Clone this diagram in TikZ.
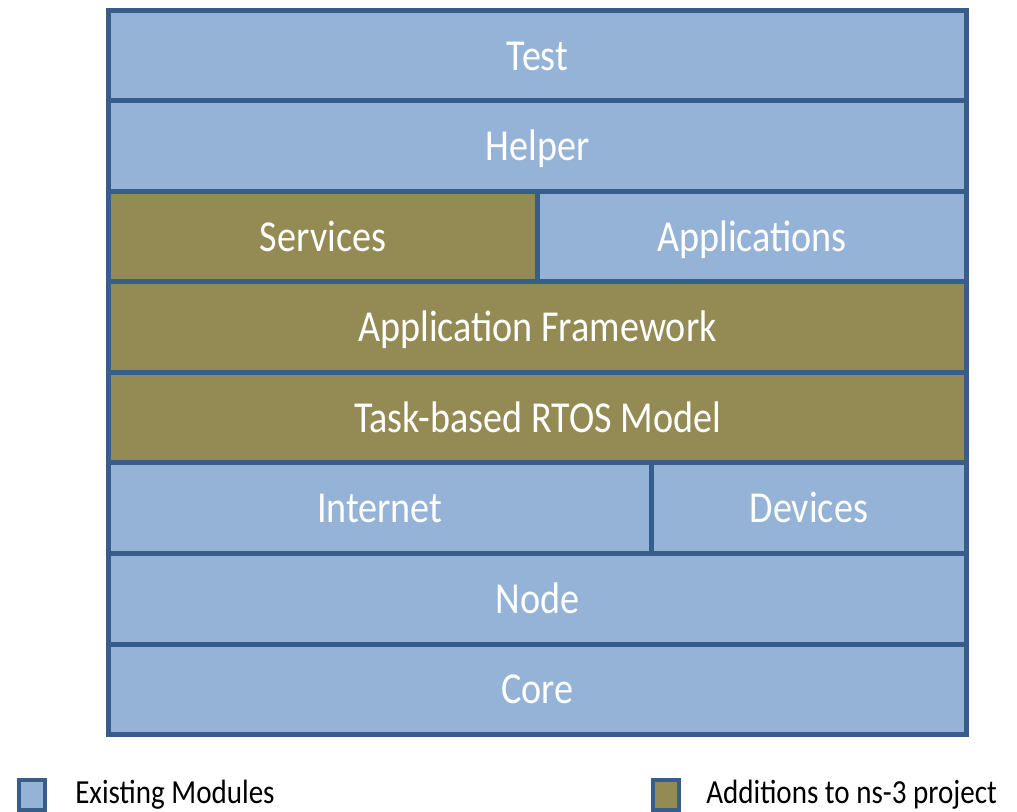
\documentclass[tikz,border=0pt]{standalone}
\usepackage{fontspec}
\setmainfont{Carlito}
\usepackage{graphicx}
\definecolor{layerblue}{RGB}{149,179,215}
\definecolor{layeredge}{RGB}{56,93,138}
\definecolor{layerolive}{RGB}{148,138,84}
% slightly taller lettering
\newcommand{\tall}[1]{\scalebox{1}[1.16]{#1}}
\begin{document}
\begin{tikzpicture}[x=0.75pt,y=-0.75pt]
\useasboundingbox (0,0) rectangle (1017,812);
\tikzset{
  layer/.style={draw=layeredge, line width=3.75pt, inner sep=0pt, text=white,
    font=\fontsize{28.6}{31}\selectfont, minimum height=67.875pt,
    text height=21.5pt, text depth=0pt},
  existing/.style={layer, fill=layerblue},
  addition/.style={layer, fill=layerolive},
  fullrow/.style={minimum width=643.5pt},
  halfrow/.style={minimum width=321.75pt},
  wideleft/.style={minimum width=406.875pt},
  narrowright/.style={minimum width=236.625pt},
  keybox/.style={draw=layeredge, line width=3pt, inner sep=0pt,
    minimum width=19.5pt, minimum height=22.5pt},
  keytext/.style={anchor=base west, inner sep=0pt, text=black,
    font=\fontsize{21.8}{24}\selectfont}
}
% module stack, top to bottom
\node[existing, fullrow] (test) at (537.5,55.75) {\tall{Test}};
\node[existing, fullrow] (helper) at (537.5,146.25) {\tall{Helper}};
\node[addition, halfrow] (services) at (323,236.75) {\tall{Services}};
\node[existing, halfrow] (apps) at (752,236.75) {\tall{Applications}};
\node[addition, fullrow] (framework) at (537.5,327.25) {\tall{Application Framework}};
\node[addition, fullrow] (rtos) at (537.5,417.75) {\tall{Task-based RTOS Model}};
\node[existing, wideleft] (internet) at (379.75,508.25) {\tall{Internet}};
\node[existing, narrowright] (devices) at (808.75,508.25) {\tall{Devices}};
\node[existing, fullrow] (nodelayer) at (537.5,598.75) {\tall{Node}};
\node[existing, fullrow] (core) at (537.5,689.25) {\tall{Core}};
% legend
\node[keybox, fill=layerblue] (keyold) at (32,795) {};
\node[keytext] (keyoldtext) at (75,803.5) {\tall{Existing Modules}};
\node[keybox, fill=layerolive] (keynew) at (665.5,795) {};
\node[keytext] (keynewtext) at (706,803.5) {\tall{Additions to ns-3 project}};
\end{tikzpicture}
\end{document}
